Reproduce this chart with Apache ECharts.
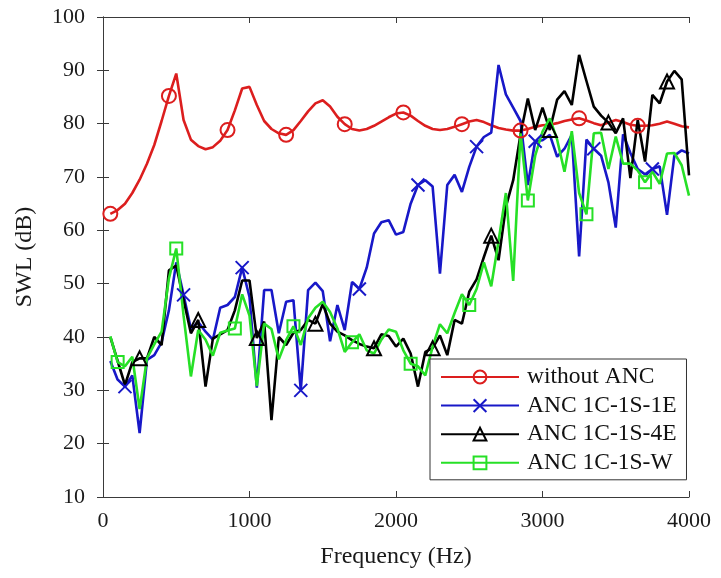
<!DOCTYPE html>
<html>
<head>
<meta charset="utf-8">
<script src="https://cdn.jsdelivr.net/npm/echarts@6/dist/echarts.min.js"></script>
<style>
html,body{margin:0;padding:0;background:#fff;}
#chart{width:721px;height:578px;}
</style>
</head>
<body>
<div id="chart"></div>
<script>
// Frequencies (Hz), 50 Hz steps
const freqs = [];
for (let f = 50; f <= 4000; f += 50) freqs.push(f);

const seriesNames = ['without ANC', 'ANC 1C-1S-1E', 'ANC 1C-1S-4E', 'ANC 1C-1S-W'];
const xTicks = [0, 1000, 2000, 3000, 4000];
const yTicks = [10, 20, 30, 40, 50, 60, 70, 80, 90, 100];

const withoutANC = [
  63.1, 63.8, 65, 67, 69.5, 72.5, 76, 80.5, 85.2, 89.4,
  80.7, 77, 75.8, 75.2, 75.6, 76.8, 78.8, 82.5, 86.6, 86.9,
  83.5, 80.5, 79, 78.2, 77.9, 78.8, 80.5, 82.3, 83.8, 84.4,
  83.2, 81.3, 79.9, 79, 78.7, 79, 79.6, 80.4, 81.2, 81.9,
  82.1, 81.5, 80.5, 79.6, 79, 78.8, 79, 79.4, 79.9, 80.4,
  80.7, 80.3, 79.7, 79.2, 78.9, 78.7, 78.7, 79, 79.4, 79.7,
  79.8, 80.1, 80.5, 80.8, 81, 80.6, 80.1, 79.7, 80.2, 80.7,
  80.3, 79.8, 79.6, 79.6, 79.7, 80, 80.4, 80, 79.5, 79.3
];

const anc1E = [
  35.5, 32, 30.7, 32.8, 22, 35.7, 36.6, 39, 45, 54,
  47.9, 41.5, 42.8, 41, 39.5, 45.5, 46, 47.5, 53, 47.5,
  30.5, 48.8, 48.8, 40.7, 46.6, 46.9, 30, 48.8, 50.2, 48.6,
  39.2, 46, 41.3, 50.3, 49, 53, 59.4, 61.5, 61.9, 59.2,
  59.7, 65, 68.5, 69.4, 68.2, 51.9, 68.5, 70.4, 67.2, 71.9,
  75.7, 77.5, 78.3, 91, 85.5, 83, 80.5, 68.5, 76.7, 76.9,
  77.9, 73.8, 75.3, 77.9, 55.1, 77, 75.3, 74, 69, 60.5,
  78, 74.5, 71.5, 70.5, 71.5, 72, 62.9, 74, 75, 74.4
];

const anc4E = [
  40, 35.5, 31, 35.3, 36, 36, 40, 38.5, 52.5, 53.4,
  47, 40.7, 43.2, 30.7, 39.7, 40.5, 41.3, 45, 50.6, 50.6,
  39.8, 42.9, 24.4, 40, 38.5, 40.8, 41.3, 43.2, 42.5, 46.2,
  42.5, 41, 40.3, 39.4, 38.7, 38.2, 37.9, 40.5, 40.2, 38.2,
  39.7, 36.9, 30.7, 37.2, 37.9, 40.3, 36.6, 43.2, 42.5, 48.5,
  50.8, 55, 59, 54.4, 64.4, 69.4, 78, 84.7, 78.8, 83,
  78.8, 84.5, 86.1, 83.5, 92.9, 88, 83.2, 81.5, 80.2, 78.2,
  81, 69.8, 80.7, 72.9, 85.4, 83.8, 87.9, 89.9, 88.3, 70.3
];

const ancW = [
  40.1, 35.3, 34.5, 36.3, 26.5, 36, 38.6, 41, 51, 56.6,
  44, 32.6, 41.3, 39.5, 36.5, 40.8, 41.2, 41.6, 48, 44,
  30.8, 42.5, 41.5, 35.8, 39.4, 42, 38.5, 43.5, 45.5, 46.6,
  44.7, 41.6, 37.2, 39, 40.5, 37.5, 36.9, 39.5, 41.4, 41,
  37.5, 35, 34.5, 32.8, 38.2, 42.4, 40.7, 44.5, 48, 46,
  49, 54, 49.5, 58, 67, 50.5, 78.2, 65.6, 74, 78.5,
  81, 77, 71, 78.6, 67, 63, 78.2, 78.3, 71.5, 77.6,
  72.5, 72.5, 71.2, 69, 71, 68.7, 74.4, 74.5, 72.2, 66.5
];

function pairs(arr) { return arr.map((v, i) => [freqs[i], v]); }

const FONT = '"Liberation Serif", "Times New Roman", serif';
const AX = '#3a3a3a';

function mkSeries(name, data, color, symbol, offset, size) {
  return {
    name: name,
    type: 'line',
    data: pairs(data),
    showSymbol: true,
    symbol: symbol,
    symbolSize: function (v, p) { return (p.dataIndex % 8 === offset) ? size : 0; },
    lineStyle: { color: color, width: 2.6 },
    itemStyle: { color: 'rgba(255,255,255,0)', borderColor: color, borderWidth: 2 },
    emphasis: { disabled: true },
    z: 2
  };
}

const chart = echarts.init(document.getElementById('chart'), null, { renderer: 'canvas' });
chart.setOption({
  animation: false,
  backgroundColor: '#fff',
  grid: { left: 103, right: 32, top: 17, bottom: 81, containLabel: false },
  legend: {
    orient: 'vertical',
    left: 430, top: 359,
    padding: [6, 10, 5, 10],
    itemWidth: 78, itemHeight: 16, itemGap: 4.6,
    backgroundColor: '#fff',
    borderColor: '#333', borderWidth: 1,
    textStyle: { fontFamily: FONT, fontSize: 23.5, color: '#111', padding: [0, 0, 0, 3] },
    data: seriesNames
  },
  xAxis: [{
    type: 'value', min: 0, max: 4000, interval: 1000,
    axisLine: { lineStyle: { color: AX, width: 1 } },
    axisTick: { inside: true, length: 6, lineStyle: { color: AX } },
    axisLabel: { fontFamily: FONT, fontSize: 22, color: '#1a1a1a', margin: 13,
      formatter: v => xTicks.includes(v) ? String(v) : '' },
    splitLine: { show: false },
    name: 'Frequency (Hz)', nameLocation: 'middle', nameGap: 48,
    nameTextStyle: { fontFamily: FONT, fontSize: 24, color: '#1a1a1a' }
  }, {
    type: 'value', min: 0, max: 4000, interval: 1000, position: 'top',
    axisLine: { lineStyle: { color: AX, width: 1 } },
    axisTick: { inside: true, length: 6, lineStyle: { color: AX } },
    axisLabel: { show: false }, splitLine: { show: false }
  }],
  yAxis: [{
    type: 'value', min: 10, max: 100, interval: 10,
    axisLine: { show: true, lineStyle: { color: AX, width: 1 } },
    axisTick: { show: true, inside: true, length: 6, lineStyle: { color: AX } },
    axisLabel: { fontFamily: FONT, fontSize: 22, color: '#1a1a1a', margin: 18,
      formatter: v => yTicks.includes(v) ? String(v) : '' },
    splitLine: { show: false },
    name: 'SWL (dB)', nameLocation: 'middle', nameGap: 66, nameRotate: 90,
    nameTextStyle: { fontFamily: FONT, fontSize: 24, color: '#1a1a1a' }
  }, {
    type: 'value', min: 10, max: 100, interval: 10, position: 'right',
    axisLine: { show: true, lineStyle: { color: AX, width: 1 } },
    axisTick: { show: true, inside: true, length: 6, lineStyle: { color: AX } },
    axisLabel: { show: false }, splitLine: { show: false }
  }],
  series: [
    mkSeries(seriesNames[0], withoutANC, '#dc1e1e', 'circle', 0, 14),
    mkSeries(seriesNames[1], anc1E, '#1818c8', 'path://M0,0L10,10M10,0L0,10', 2, 13),
    mkSeries(seriesNames[2], anc4E, '#000000', 'triangle', 4, 14),
    mkSeries(seriesNames[3], ancW, '#26e026', 'rect', 1, 12)
  ]
});
</script>
</body>
</html>
